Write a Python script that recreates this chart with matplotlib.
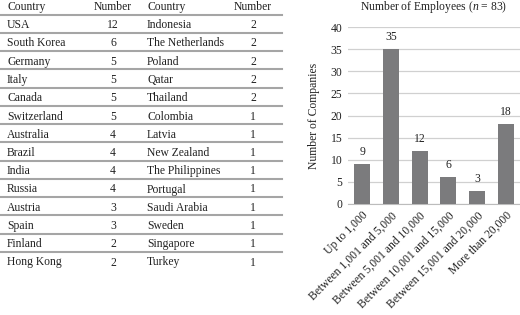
import matplotlib.pyplot as plt

plt.rcParams['font.family'] = ['Liberation Serif', 'DejaVu Serif']
plt.rcParams['mathtext.fontset'] = 'custom'
plt.rcParams['mathtext.rm'] = 'Liberation Serif'
plt.rcParams['mathtext.it'] = 'Liberation Serif:italic'

# table data
countries_left = ["USA", "South Korea", "Germany", "Italy", "Canada", "Switzerland",
                  "Australia", "Brazil", "India", "Russia", "Austria", "Spain",
                  "Finland", "Hong Kong"]
numbers_left = [12, 6, 5, 5, 5, 5, 4, 4, 4, 4, 3, 3, 2, 2]
countries_right = ["Indonesia", "The Netherlands", "Poland", "Qatar", "Thailand",
                   "Colombia", "Latvia", "New Zealand", "The Philippines", "Portugal",
                   "Saudi Arabia", "Sweden", "Singapore", "Turkey"]
numbers_right = [2, 2, 2, 2, 2, 1, 1, 1, 1, 1, 1, 1, 1, 1]

# bar chart data
categories = ["Up to 1,000", "Between 1,001 and 5,000", "Between 5,001 and 10,000",
              "Between 10,001 and 15,000", "Between 15,001 and 20,000", "More than 20,000"]
companies = [9, 35, 12, 6, 3, 18]

fig = plt.figure(figsize=(5.2, 3.15), dpi=100)
fs = 8.4

# ---- table ----
axt = fig.add_axes([0, 0, 1, 1])
axt.set_xlim(0, 520)
axt.set_ylim(315, 0)
axt.axis('off')

row_h = 18.25
y0 = 10
txt = dict(fontsize=fs, va='baseline', color='#222222')
axt.text(7, y0, "Country", ha='left', **txt)
axt.text(113, y0, "Number", ha='center', **txt)
axt.text(147, y0, "Country", ha='left', **txt)
axt.text(253, y0, "Number", ha='center', **txt)
for i in range(len(countries_left)):
    y = y0 + row_h * (i + 1)
    axt.text(7, y, countries_left[i], ha='left', **txt)
    axt.text(113, y, str(numbers_left[i]), ha='center', **txt)
    axt.text(147, y, countries_right[i], ha='left', **txt)
    axt.text(253, y, str(numbers_right[i]), ha='center', **txt)
for i in range(len(countries_left)):
    y = 14.5 + row_h * i
    axt.plot([0, 282], [y, y], color='#a5a5a5', lw=1.5)

# ---- bar chart ----
ax = fig.add_axes([348 / 520, 1 - 204 / 315, 172 / 520, 177 / 315])
x = list(range(len(categories)))
ax.bar(x, companies, width=0.56, color='#7b7b7d', zorder=3)
for xi, v in zip(x, companies):
    ax.text(xi, v + 1.4, str(v), ha='center', va='bottom', fontsize=fs, color='#222222')
ax.set_xlim(-0.5, 5.5)
ax.set_ylim(0, 40)
ax.set_yticks(range(0, 41, 5))
ax.yaxis.grid(True, color='#d0d0d0', lw=0.9, zorder=0)
for s in ['top', 'right', 'left']:
    ax.spines[s].set_visible(False)
ax.spines['bottom'].set_color('#bcbcbc')
ax.tick_params(axis='both', length=0, labelsize=fs, colors='#222222', pad=4)
ax.set_xticks(x)
ax.set_xticklabels(categories, rotation=45, ha='right', rotation_mode='anchor')
ax.set_ylabel("Number of Companies", fontsize=fs, color='#222222', labelpad=8)
ax.set_title("Number of Employees ($n$ = 83)", fontsize=fs, color='#222222', pad=12)

fig.savefig("out.png", dpi=100)
